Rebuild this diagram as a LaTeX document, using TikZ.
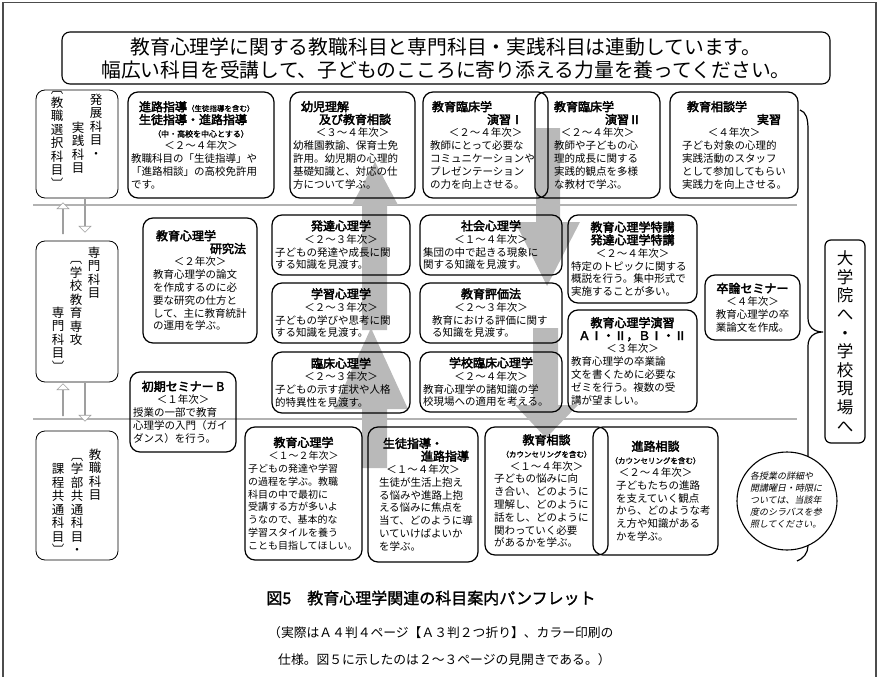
\documentclass[tikz,border=0pt]{standalone}
\usepackage{fontspec}
\setmainfont{Noto Sans CJK JP}
\newfontfamily\hbf[FakeBold=3]{Noto Sans CJK JP}
\newfontfamily\mbf[FakeBold=1.5]{Noto Sans CJK JP}
\newfontfamily\slfont[FakeSlant=0.2]{Noto Sans CJK JP}
\usetikzlibrary{shapes.geometric,shapes.arrows}
\newcommand\lnC[1]{\makebox[\cw pt][c]{#1}}
\newcommand\lnL[1]{\makebox[\cw pt][l]{#1}}
\newcommand\lnR[1]{\makebox[\cw pt][r]{#1}}
\newcommand\Hd[1]{{\hbf\fontsize{12}{13}\selectfont #1}}
\newcommand\Sm[2][7.5]{{\mbf\fontsize{#1}{9}\selectfont #2}}
\newcommand\coursebox[7][]{%
  \pgfmathsetmacro\cw{#5-#3-6}%
  \pgfmathsetmacro\bw{#5-#3}%
  \pgfmathsetmacro\bh{#6-#4}%
  \node[course,minimum width=\bw pt,minimum height=\bh pt,#1] (#2) at ({(#3+#5)/2},{(#4+#6)/2}) {#7};}
\begin{document}
\begin{tikzpicture}[x=1pt,y=-1pt,
  course/.style={draw,rounded corners=10pt,line width=1.2pt,inner sep=0pt,align=center,font={\fontsize{10.5}{12.8}\selectfont}},
  labelbox/.style={draw,rounded corners=9pt,line width=0.8pt,minimum width=82pt,inner sep=0pt},
  vcol/.style={anchor=north,inner sep=0pt,align=center,font={\fontsize{12.5}{13.5}\selectfont}},
  hollowarrow/.style={single arrow,draw=gray!75,line width=0.6pt,fill=white,minimum width=12pt,single arrow head extend=3.5pt,inner sep=0pt},
  divider/.style={draw=gray!60,line width=2.5pt},
  grayarrow/.style={fill=gray!55}]
\useasboundingbox (0,0) rectangle (879,677);
% frame
\draw[line width=1.4pt,black!70] (3,677) -- (3,2.5) -- (876,2.5) -- (876,677);
% title
\node[draw,rounded corners=8pt,line width=1.1pt,minimum width=768pt,minimum height=52pt,inner sep=0pt,align=center,font={\fontsize{19.8}{23}\selectfont}] (title) at (446,58)
 {教育心理学に関する教職科目と専門科目・実践科目は連動しています。\\幅広い科目を受講して、子どものこころに寄り添える力量を養ってください。};
% dividers
\coordinate (d1a) at (33,205); \coordinate (d1b) at (797,205);
\coordinate (d2a) at (33,419); \coordinate (d2b) at (797,419);
\draw[divider] (d1a) -- (d1b);
\draw[divider] (d2a) -- (d2b);
% gray arrows
\fill[grayarrow] (362,468) -- (362,409) -- (334,409) -- (371,328) -- (408,409) -- (387,409) -- (387,468) -- cycle
  (362,330) -- (362,205) -- (352,205) -- (375,162) -- (398,205) -- (387,205) -- (387,330) -- cycle;
\fill[grayarrow] (536,128) -- (536,222) -- (515,222) -- (547,286) -- (580,222) -- (560,222) -- (560,128) -- cycle;
\fill[grayarrow] (533,328) -- (533,405) -- (515,405) -- (546,438) -- (578,405) -- (558,405) -- (558,328) -- cycle;
% left label boxes
\node[labelbox,minimum height=108pt] (lab1) at (77,144) {};
\node[labelbox,minimum height=141pt] (lab2) at (77,311.5) {};
\node[labelbox,minimum height=129pt] (lab3) at (77,495.5) {};
\node[vcol] (l1r) at (96,93.5) {発\\展\\科\\目\\・};
\node[vcol] (l1m) at (78,121.5) {実\\践\\科\\目};
\node[vcol] (l1l) at (57,91.5) {︹\\教\\職\\選\\択\\科\\目\\︺};
\node[vcol] (l2r) at (94,246.5) {専\\門\\科\\目};
\node[vcol] (l2m) at (76,261.5) {︹\\学\\校\\教\\育\\専\\攻};
\node[vcol] (l2l) at (58,306.5) {専\\門\\科\\目\\︺};
\node[vcol] (l3r) at (95,448.5) {教\\職\\科\\目};
\node[vcol] (l3m) at (77,458) {︹\\学\\部\\共\\通\\科\\目\\・};
\node[vcol] (l3l) at (58,463.5) {課\\程\\共\\通\\科\\目\\︺};
% hollow arrows between label boxes
\node[hollowarrow,minimum height=31pt,shape border rotate=90] (ua1) at (63,218.5) {};
\node[hollowarrow,minimum height=33pt,shape border rotate=270] (da1) at (85,215.5) {};
\node[hollowarrow,minimum height=32pt,shape border rotate=90] (ua2) at (63,400) {};
\node[hollowarrow,minimum height=38pt,shape border rotate=270] (da2) at (85,402) {};
% top row
\coursebox{a1}{128}{92}{274}{198}{%
\lnL{\hspace{8pt}\Hd{進路指導}\Sm{（生徒指導を含む）}}\\
\lnL{\hspace{8pt}\Hd{生徒指導・進路指導}}\\
\lnC{\Sm[8]{（中・高校を中心とする）}}\\
\lnC{＜２～４年次＞}\\
\lnL{教職科目の「生徒指導」や}\\
\lnL{「進路相談」の高校免許用}\\
\lnL{です。}}
\coursebox{a2}{290}{92}{415}{198}{%
\lnL{\hspace{8pt}\Hd{幼児理解}}\\
\lnL{\hspace{26pt}\Hd{及び教育相談}}\\
\lnC{＜３～４年次＞}\\
\lnL{幼稚園教諭、保育士免}\\
\lnL{許用。幼児期の心理的}\\
\lnL{基礎知識と、対応の仕}\\
\lnL{方について学ぶ。}}
\coursebox{a3}{423}{92}{548}{198}{%
\lnL{\hspace{6pt}\Hd{教育臨床学}}\\
\lnR{\Hd{演習Ⅰ}\hspace{22pt}}\\
\lnC{＜２～４年次＞}\\
\lnL{\hspace{4pt}教師にとって必要な}\\
\lnL{\hspace{4pt}コミュニケーションや}\\
\lnL{\hspace{4pt}プレゼンテーション}\\
\lnL{\hspace{4pt}の力を向上させる。}}
\coursebox{a4}{535}{92}{660}{198}{%
\lnL{\hspace{16pt}\Hd{教育臨床学}}\\
\lnR{\Hd{演習Ⅱ}\hspace{16pt}}\\
\lnC{＜２～４年次＞}\\
\lnL{\hspace{16pt}教師や子どもの心}\\
\lnL{\hspace{16pt}理的成長に関する}\\
\lnL{\hspace{16pt}実践的観点を多様}\\
\lnL{\hspace{16pt}な教材で学ぶ。}}
\coursebox{a5}{670}{92}{798}{198}{%
\lnL{\hspace{14pt}\Hd{教育相談学}}\\
\lnR{\Hd{実習}\hspace{14pt}}\\
\lnC{＜４年次＞}\\
\lnL{\hspace{9pt}子ども対象の心理的}\\
\lnL{\hspace{9pt}実践活動のスタッフ}\\
\lnL{\hspace{9pt}として参加してもらい}\\
\lnL{\hspace{9pt}実践力を向上させる。}}
% middle row
\coursebox{b1}{143}{218}{257}{343}{%
\lnL{\hspace{10pt}\Hd{教育心理学}}\\
\lnR{\Hd{研究法}\hspace{8pt}}\\
\lnC{＜２年次＞}\\
\lnL{\hspace{7pt}教育心理学の論文}\\
\lnL{\hspace{7pt}を作成するのに必}\\
\lnL{\hspace{7pt}要な研究の仕方と}\\
\lnL{\hspace{7pt}して、主に教育統計}\\
\lnL{\hspace{7pt}の運用を学ぶ。}}
\coursebox{b2}{272}{215}{410}{275}{%
\lnC{\Hd{発達心理学}}\\
\lnC{＜２～３年次＞}\\
\lnL{子どもの発達や成長に関}\\
\lnL{する知識を見渡す。}}
\coursebox{b3}{272}{283}{410}{343}{%
\lnC{\Hd{学習心理学}}\\
\lnC{＜２～３年次＞}\\
\lnL{子どもの学びや思考に関}\\
\lnL{する知識を見渡す。}}
\coursebox{b4}{272}{352}{410}{413}{%
\lnC{\Hd{臨床心理学}}\\
\lnC{＜２～３年次＞}\\
\lnL{子どもの示す症状や人格}\\
\lnL{的特異性を見渡す。}}
\coursebox{b5}{420}{215}{562}{275}{%
\lnC{\Hd{社会心理学}}\\
\lnC{＜１～４年次＞}\\
\lnL{集団の中で起きる現象に}\\
\lnL{関する知識を見渡す。}}
\coursebox{b6}{420}{283}{562}{343}{%
\lnC{\Hd{教育評価法}}\\
\lnC{＜２～３年次＞}\\
\lnL{\hspace{9pt}教育における評価に関す}\\
\lnL{\hspace{9pt}る知識を見渡す。}}
\coursebox{b7}{420}{352}{562}{412}{%
\lnC{\Hd{学校臨床心理学}}\\
\lnC{＜２～４年次＞}\\
\lnL{教育心理学の諸知識の学}\\
\lnL{校現場への適用を考える。}}
\coursebox{b8}{568}{215}{697}{303}{%
\lnC{\Hd{教育心理学特講}}\\
\lnC{\Hd{発達心理学特講}}\\
\lnC{＜２～４年次＞}\\
\lnL{特定のトピックに関する}\\
\lnL{概説を行う。集中形式で}\\
\lnL{実施することが多い。}}
\coursebox{b9}{568}{310}{697}{412}{%
\lnC{\Hd{教育心理学演習}}\\
\lnC{\Hd{ＡⅠ・Ⅱ，ＢⅠ・Ⅱ}}\\
\lnC{＜３年次＞}\\
\lnL{教育心理学の卒業論}\\
\lnL{文を書くために必要な}\\
\lnL{ゼミを行う。複数の受}\\
\lnL{講が望ましい。}}
\coursebox{b10}{705}{275}{800}{340}{%
\lnC{\Hd{卒論セミナー}}\\
\lnC{＜４年次＞}\\
\lnC{教育心理学の卒}\\
\lnC{業論文を作成。}}
\coursebox{c0}{130}{372}{236}{452}{%
\lnC{\Hd{初期セミナー B}}\\
\lnC{＜１年次＞}\\
\lnL{授業の一部で教育}\\
\lnL{心理学の入門（ガイ}\\
\lnL{ダンス）を行う。}}
% bottom row
\coursebox[font={\fontsize{10}{12.8}\selectfont}]{d1}{245}{427}{362}{560}{%
\lnC{\Hd{教育心理学}}\\
\lnC{＜１～２年次＞}\\
\lnL{子どもの発達や学習}\\
\lnL{の過程を学ぶ。教職}\\
\lnL{科目の中で最初に}\\
\lnL{受講する方が多いよ}\\
\lnL{うなので、基本的な}\\
\lnL{学習スタイルを養う}\\
\lnL{ことも目指してほしい。}}
\coursebox{d2}{368}{427}{478}{562}{%
\lnL{\hspace{12pt}\Hd{生徒指導・}}\\
\lnR{\Hd{進路指導}\hspace{6pt}}\\
\lnC{＜１～４年次＞}\\
\lnL{\hspace{8pt}生徒が生活上抱え}\\
\lnL{\hspace{8pt}る悩みや進路上抱}\\
\lnL{\hspace{8pt}える悩みに焦点を}\\
\lnL{\hspace{8pt}当て、どのように導}\\
\lnL{\hspace{8pt}いていけばよいか}\\
\lnL{\hspace{8pt}を学ぶ。}}
\coursebox{d3}{485}{427}{608}{555}{%
\lnC{\Hd{教育相談}}\\
\lnC{\Sm{（カウンセリングを含む）}}\\
\lnC{＜１～４年次＞}\\
\lnL{\hspace{6pt}子どもの悩みに向}\\
\lnL{\hspace{6pt}き合い、どのように}\\
\lnL{\hspace{6pt}理解し、どのように}\\
\lnL{\hspace{6pt}話をし、どのように}\\
\lnL{\hspace{6pt}関わっていく必要}\\
\lnL{\hspace{6pt}があるかを学ぶ。}}
\coursebox{d4}{593}{427}{718}{555}{%
\lnC{\Hd{進路相談}}\\
\lnC{\Sm{（カウンセリングを含む）}}\\
\lnC{＜２～４年次＞}\\
\lnL{\hspace{20pt}子どもたちの進路}\\
\lnL{\hspace{20pt}を支えていく観点}\\
\lnL{\hspace{20pt}から、どのような考}\\
\lnL{\hspace{20pt}え方や知識がある}\\
\lnL{\hspace{20pt}かを学ぶ。}}
% brace
\coordinate (bt) at (800,110);
\coordinate (btip) at (823,332);
\coordinate (bb) at (797,561);
\draw[line width=1.2pt] (bt) .. controls (806,112) and (808,118) .. (808,130) -- (808,318)
  .. controls (808,327) and (814,332) .. (btip)
  .. controls (814,332) and (808,337) .. (808,346) -- (808,546)
  .. controls (808,553) and (803,559) .. (bb);
% goal box
\node[draw,rounded corners=6pt,line width=1.2pt,minimum width=40pt,minimum height=203pt,inner sep=0pt,align=center,font={\fontsize{16.5}{18.6}\selectfont}] (goal) at (845,341.5)
 {大\\学\\院\\へ\\・\\学\\校\\現\\場\\へ};
% note ellipse
\node[ellipse,draw,line width=1.1pt,fill=white,minimum width=100pt,minimum height=98pt,inner sep=0pt] (note) at (787,501) {};
\node[align=left,inner sep=0pt,font={\slfont\fontsize{9}{12}\selectfont}] (notetxt) at (786,500)
 {各授業の詳細や\\開講曜日・時限に\\ついては、当該年\\度のシラバスを参\\照してください。};
% caption
\node[inner sep=0pt,font={\mbf\fontsize{16}{18}\selectfont}] (cap) at (431,598) {図5\hspace{16pt}教育心理学関連の科目案内パンフレット};
\node[anchor=west,inner sep=0pt,font={\fontsize{12.8}{14}\selectfont}] (cap2) at (268,633) {（実際はＡ４判４ページ【Ａ３判２つ折り】、カラー印刷の};
\node[anchor=west,inner sep=0pt,font={\fontsize{12.8}{14}\selectfont}] (cap3) at (278,660) {仕様。図５に示したのは２～３ページの見開きである。）};
\end{tikzpicture}
\end{document}
